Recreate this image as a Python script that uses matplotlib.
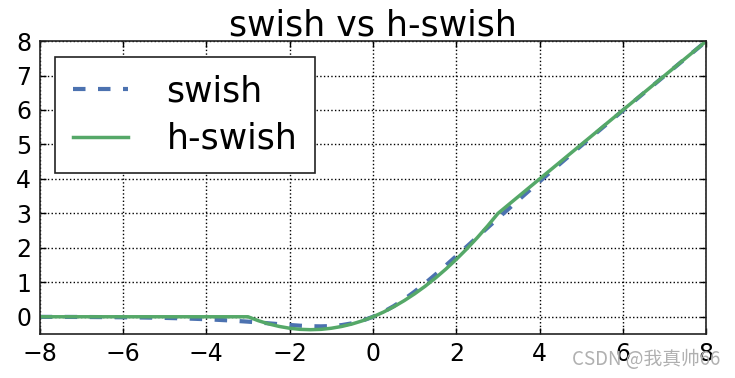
import matplotlib
matplotlib.use("Agg")
from matplotlib import pyplot as plt

# values
x = [-8, -7.5, -7, -6.5, -6, -5.5, -5, -4.5, -4, -3.5, -3,
     -2.75, -2.5, -2.25, -2, -1.75, -1.5, -1.25, -1, -0.75, -0.5, -0.25,
     0, 0.25, 0.5, 0.75, 1, 1.25, 1.5, 1.75, 2, 2.25, 2.5, 2.75,
     3, 3.5, 4, 4.5, 5, 5.5, 6, 6.5, 7, 7.5, 8]
swish = [-0.003, -0.004, -0.006, -0.010, -0.015, -0.022, -0.033, -0.049, -0.072, -0.103, -0.142,
         -0.165, -0.190, -0.215, -0.238, -0.259, -0.274, -0.278, -0.269, -0.241, -0.189, -0.110,
         0, 0.141, 0.311, 0.509, 0.731, 0.972, 1.226, 1.491, 1.762, 2.036, 2.310, 2.585,
         2.858, 3.397, 3.928, 4.451, 4.967, 5.478, 5.985, 6.490, 6.994, 7.496, 7.997]
h_swish = [0, 0, 0, 0, 0, 0, 0, 0, 0, 0, 0,
           -0.115, -0.208, -0.281, -0.333, -0.365, -0.375, -0.365, -0.333, -0.281, -0.208, -0.115,
           0, 0.135, 0.292, 0.469, 0.667, 0.885, 1.125, 1.385, 1.667, 1.969, 2.292, 2.635,
           3.0, 3.5, 4, 4.5, 5, 5.5, 6, 6.5, 7, 7.5, 8]
xticks = [-8, -6, -4, -2, 0, 2, 4, 6, 8]
yticks = [0, 1, 2, 3, 4, 5, 6, 7, 8]

fig = plt.figure(figsize=(7.35, 3.78), dpi=100)
ax = fig.add_axes([0.054, 0.1164, 0.907, 0.775])

ax.plot(x, swish, color="#4C72B0", linestyle="--", linewidth=3, dashes=(3, 3), label="swish")
ax.plot(x, h_swish, color="#55A868", linewidth=2.5, label="h-swish")

ax.set_xlim(-8, 8)
ax.set_ylim(-0.5, 8)
ax.set_xticks(xticks)
ax.set_yticks(yticks)
ax.tick_params(direction="in", top=True, right=True, labelsize=17, length=4, width=1, pad=6)
ax.grid(True, linestyle=":", color="black", linewidth=1)
for s in ax.spines.values():
    s.set_linewidth(1.2)
    s.set_color("#222222")

ax.set_title("swish vs h-swish", fontsize=25, pad=4)
leg = ax.legend(loc="upper left", fontsize=25, fancybox=False, framealpha=1,
                edgecolor="#222222", handlelength=1.6, handletextpad=1.1,
                labelspacing=0.4, borderpad=0.5, borderaxespad=0.45)
leg.get_frame().set_linewidth(1.2)

fig.text(0.98, 0.022, "CSDN @我真帅66", ha="right", va="bottom", fontsize=13.5,
         color="#b0b0b0", family=["Noto Sans CJK SC", "DejaVu Sans"])

fig.savefig("out.png", dpi=100)
